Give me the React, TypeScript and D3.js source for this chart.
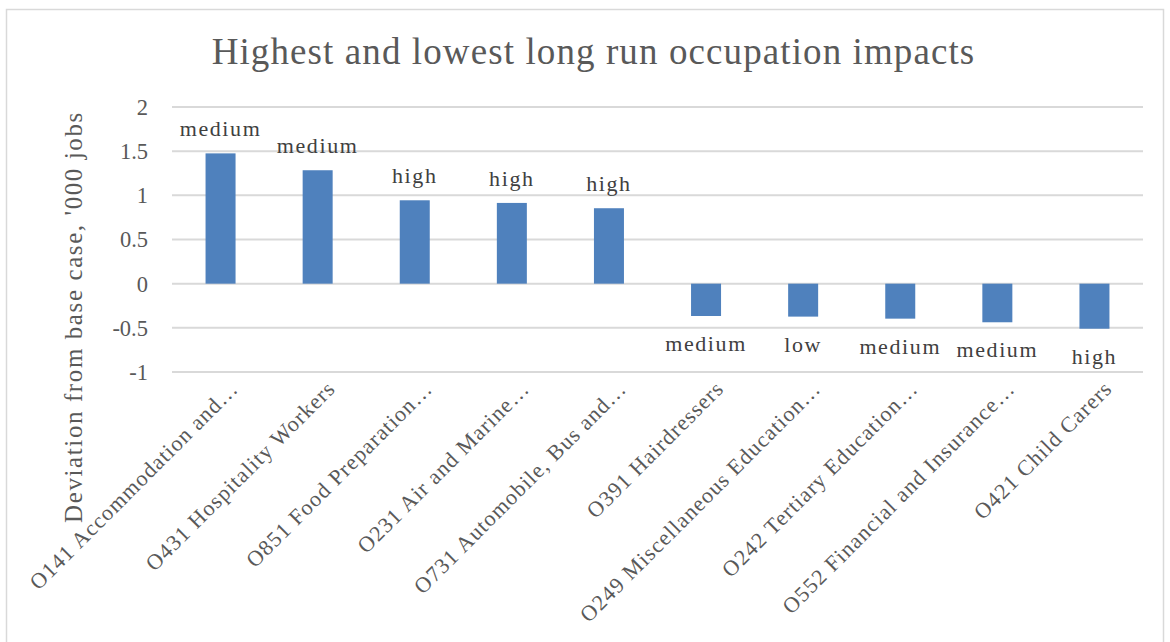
import React from "react";
import * as d3 from "d3";

const categories = [
  "O141 Accommodation and…",
  "O431 Hospitality Workers",
  "O851 Food Preparation…",
  "O231 Air and Marine…",
  "O731 Automobile, Bus and…",
  "O391 Hairdressers",
  "O249 Miscellaneous Education…",
  "O242 Tertiary Education…",
  "O552 Financial and Insurance…",
  "O421 Child Carers",
];
const values = [1.475, 1.284, 0.944, 0.914, 0.854, -0.366, -0.373, -0.396, -0.437, -0.51];
const labels = ["medium", "medium", "high", "high", "high", "medium", "low", "medium", "medium", "high"];
const yTicks = [-1, -0.5, 0, 0.5, 1, 1.5, 2];

const title = "Highest and lowest long run occupation impacts";
const yTitle = "Deviation from base case, '000 jobs";

const W = 1170;
const H = 642;
const FONT = "'Liberation Serif', serif";

export default function App() {
  const x = d3.scaleBand<string>().domain(categories).range([172, 1143]).paddingInner(0.691).paddingOuter(0.3455);
  const y = d3.scaleLinear().domain([-1, 2]).range([372, 107]);
  const fmt = (v: number) => String(v);

  return (
    <div style={{ position: "absolute", left: 0, top: 0 }}>
      <svg width={W} height={H} style={{ display: "block" }}>
        <rect x={0} y={0} width={W} height={H} fill="#fff" />
        <rect x={6.5} y={9.5} width={1157} height={660} fill="#fff" stroke="#d9d9d9" strokeWidth={1.5} />
        <text x={593.5} y={64} textAnchor="middle" fontFamily={FONT} fontSize={37} letterSpacing={1.1} fill="#595959">
          {title}
        </text>
        {yTicks.map((t) => (
          <g key={t}>
            <line x1={172} x2={1143} y1={y(t)} y2={y(t)} stroke="#d9d9d9" strokeWidth={2} />
            <text x={148} y={y(t)} dy="0.35em" textAnchor="end" fontFamily={FONT} fontSize={22.5} fill="#595959">
              {fmt(t)}
            </text>
          </g>
        ))}
        <text
          transform={`translate(82,317) rotate(-90)`}
          textAnchor="middle"
          fontFamily={FONT}
          fontSize={25}
          letterSpacing={1.6}
          fill="#595959"
        >
          {yTitle}
        </text>
        {categories.map((c, i) => {
          const v = values[i];
          const bx = x(c)!;
          const bw = x.bandwidth();
          const top = y(Math.max(0, v));
          const bot = y(Math.min(0, v));
          const cx = bx + bw / 2;
          return (
            <g key={c}>
              <rect x={bx} y={top} width={bw} height={bot - top} fill="#4f81bd" />
              <text
                x={cx}
                y={v >= 0 ? top - 17.4 : bot + 35}
                textAnchor="middle"
                fontFamily={FONT}
                fontSize={22}
                letterSpacing={1.6}
                fill="#404040"
              >
                {labels[i]}
              </text>
              <text
                transform={`translate(${cx + 19},${390}) rotate(-45)`}
                textAnchor="end"
                fontFamily={FONT}
                fontSize={22}
                letterSpacing={1.1}
                fill="#595959"
              >
                {c}
              </text>
            </g>
          );
        })}
      </svg>
    </div>
  );
}
